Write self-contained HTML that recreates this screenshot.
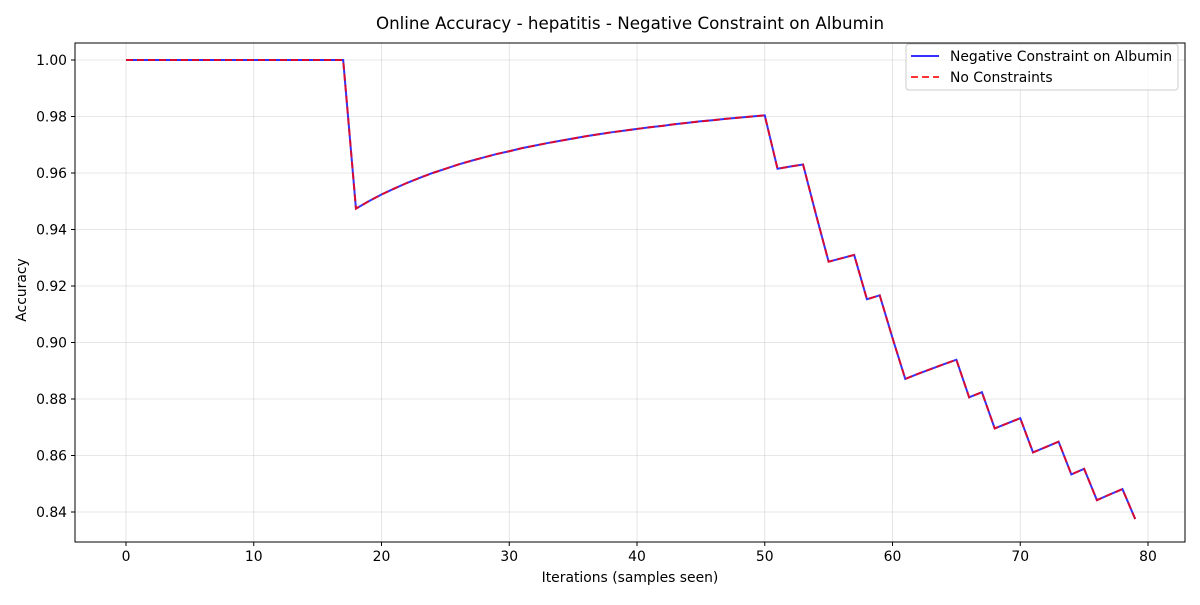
<!DOCTYPE html>
<html><head><meta charset="utf-8"><style>
body{margin:0;background:#fff}
svg text{font-family:"DejaVu Sans","Liberation Sans",sans-serif;fill:#000}
</style></head><body>
<svg id="chart" width="1200" height="600" viewBox="0 0 1200 600">
<rect width="1200" height="600" fill="#fff"/>
<text x="630" y="29" font-size="16.7" text-anchor="middle">Online Accuracy - hepatitis - Negative Constraint on Albumin</text>
<g id="grid"></g>
<g id="axes"></g>
<g id="series"></g>
<rect x="75" y="43" width="1110" height="499" fill="none" stroke="#000" stroke-width="1"/>
<text x="630" y="582" font-size="13.9" text-anchor="middle">Iterations (samples seen)</text>
<text x="26" y="290" font-size="13.9" text-anchor="middle" transform="rotate(-90 26 290)">Accuracy</text>
<g>
<rect x="906" y="44" width="272" height="46" rx="3" fill="#fff" fill-opacity="0.8" stroke="#ccc"/>
<line x1="911" y1="56" x2="939" y2="56" stroke="#0000ff" stroke-opacity="0.8" stroke-width="2"/>
<text x="950" y="61" font-size="13.9">Negative Constraint on Albumin</text>
<line x1="911" y1="77" x2="939" y2="77" stroke="#ff0000" stroke-opacity="0.8" stroke-width="2" stroke-dasharray="7,4"/>
<text x="950" y="82" font-size="13.9">No Constraints</text>
</g>
</svg>
<script>
const xTicks=[0,10,20,30,40,50,60,70,80];
const yTicks=[0.84,0.86,0.88,0.90,0.92,0.94,0.96,0.98,1.00];
const constrainedAcc=[1,1,1,1,1,1,1,1,1,1,1,1,1,1,1,1,1,1,0.9474,0.95,0.9524,0.9545,0.9565,0.9583,0.96,0.9615,0.963,0.9643,0.9655,0.9667,0.9677,0.9688,0.9697,0.9706,0.9714,0.9722,0.973,0.9737,0.9744,0.975,0.9756,0.9762,0.9767,0.9773,0.9778,0.9783,0.9787,0.9792,0.9796,0.98,0.9804,0.9615,0.9623,0.963,0.9455,0.9286,0.9298,0.931,0.9153,0.9167,0.9016,0.8871,0.8889,0.8906,0.8923,0.8939,0.8806,0.8824,0.8696,0.8714,0.8732,0.8611,0.863,0.8649,0.8533,0.8553,0.8442,0.8462,0.8481,0.8375];
const unconstrainedAcc=[1,1,1,1,1,1,1,1,1,1,1,1,1,1,1,1,1,1,0.9474,0.95,0.9524,0.9545,0.9565,0.9583,0.96,0.9615,0.963,0.9643,0.9655,0.9667,0.9677,0.9688,0.9697,0.9706,0.9714,0.9722,0.973,0.9737,0.9744,0.975,0.9756,0.9762,0.9767,0.9773,0.9778,0.9783,0.9787,0.9792,0.9796,0.98,0.9804,0.9615,0.9623,0.963,0.9455,0.9286,0.9298,0.931,0.9153,0.9167,0.9016,0.8871,0.8889,0.8906,0.8923,0.8939,0.8806,0.8824,0.8696,0.8714,0.8732,0.8611,0.863,0.8649,0.8533,0.8553,0.8442,0.8462,0.8481,0.8375];
const NS="http://www.w3.org/2000/svg";
function xs(v){return 126+v*(1148-126)/80;}
function ys(v){return 60+(1-v)*(512-60)/0.16;}
function mk(t,a,p){const e=document.createElementNS(NS,t);for(const k in a)e.setAttribute(k,a[k]);p.appendChild(e);return e;}
const grid=document.getElementById('grid'),axes=document.getElementById('axes'),series=document.getElementById('series');
xTicks.forEach(t=>{const x=xs(t);
 const g=mk('line',{x1:x,x2:x,y1:43,y2:542,stroke:'#b0b0b0','stroke-opacity':0.4,'stroke-width':0.8},grid);
 
 
 const k=mk('line',{x1:x,x2:x,y1:542,y2:546,stroke:'#000'},axes);
 
 
 const l=mk('text',{x:x,y:561,'font-size':13.9,'text-anchor':'middle'},axes);l.textContent=t;
 
 
});
yTicks.forEach(t=>{const y=ys(t);
 const g=mk('line',{x1:75,x2:1185,y1:y,y2:y,stroke:'#b0b0b0','stroke-opacity':0.4,'stroke-width':0.8},grid);
 
 
 const k=mk('line',{x1:71,x2:75,y1:y,y2:y,stroke:'#000'},axes);
 
 
 const l=mk('text',{x:67,y:y+5,'font-size':13.9,'text-anchor':'end'},axes);l.textContent=t.toFixed(2);
 
 
});
function pts(arr){return arr.map((v,i)=>xs(i)+','+ys(v)).join(' ');}
const a=mk('polyline',{points:pts(constrainedAcc),fill:'none',stroke:'#0000ff','stroke-opacity':0.8,'stroke-width':2},series);


const b=mk('polyline',{points:pts(unconstrainedAcc),fill:'none',stroke:'#ff0000','stroke-opacity':0.8,'stroke-width':2,'stroke-dasharray':'7,4'},series);


</script>
</body></html>
